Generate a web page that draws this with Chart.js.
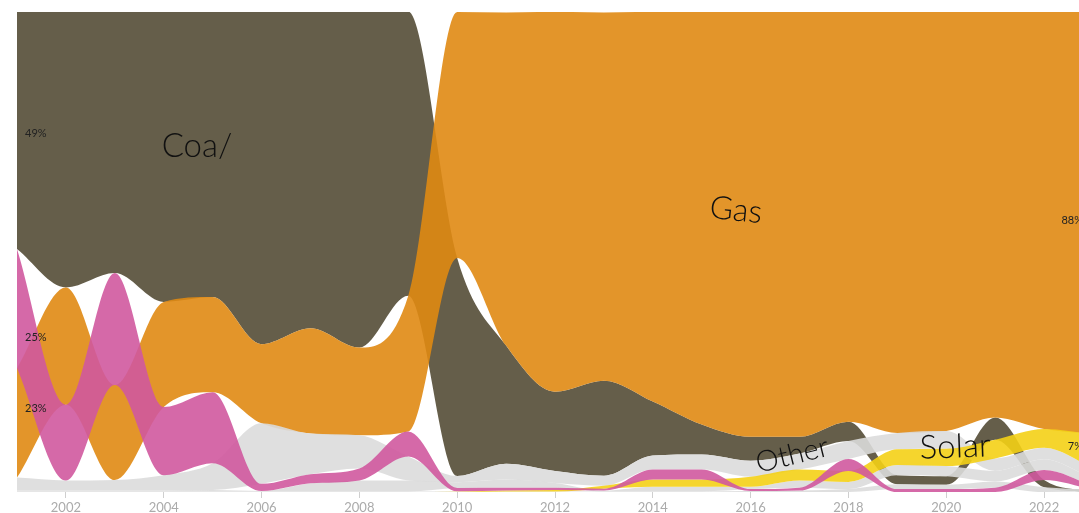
<!DOCTYPE html>
<html>
<head>
<meta charset="utf-8">
<script src="https://cdn.jsdelivr.net/npm/chart.js@4.4.1/dist/chart.umd.min.js"></script>
<style>
  html, body { margin: 0; padding: 0; background: #ffffff; width: 1079px; height: 513px; overflow: hidden; }
  canvas { display: block; }
</style>
</head>
<body>
<canvas id="chart" width="1100" height="513"></canvas>
<script>
// ---------- data (share of generation, %) ----------
const years = [2001, 2002, 2003, 2004, 2005, 2006, 2007, 2008, 2009, 2010, 2011, 2012,
               2013, 2014, 2015, 2016, 2017, 2018, 2019, 2020, 2021, 2022, 2023];
const tickYears = [2002, 2004, 2006, 2008, 2010, 2012, 2014, 2016, 2018, 2020, 2022];

const coal   = [49.4, 57.5, 54.4, 60.4, 59.4, 69.2, 66, 70, 59.2, 45.4, 24.6, 16.5,
                19.8, 11.25, 6.25, 5, 3.5, 4, 1.9, 1.8, 4.6, 1.5, 0.1];
const gas    = [22.8, 24.4, 19.8, 21.9, 19.8, 16.5, 21.9, 18.3, 28.3, 51.25, 69.4, 79.2,
                76.7, 81.25, 86, 88.5, 88.5, 85.4, 87.7, 87.3, 84.5, 86.9, 88];
const oil    = [24.8, 15.8, 23.3, 14.2, 14.8, 1.5, 1.9, 2.5, 5.2, 0.7, 0.6, 0.5,
                0.4, 2.1, 2.1, 0.4, 0.6, 2.5, 0.6, 0.6, 0.9, 2.1, 0.8];
const solar  = [0, 0, 0, 0, 0, 0, 0, 0, 0, 0.05, 0.2, 0.3,
                0.6, 1.5, 1.5, 2.1, 2.3, 2.3, 3.3, 3.6, 3.9, 3.9, 7];
const other  = [2.7, 2.1, 2.2, 3.2, 5.6, 12.6, 8.5, 6.9, 5.0, 1.3, 3.3, 2.5,
                2.1, 2.9, 3.1, 3.3, 3.3, 3.75, 3.4, 3.7, 2.6, 2.4, 2.3];
const wind   = [0.2, 0.2, 0.2, 0.2, 0.3, 0.1, 1.7, 2.3, 2.3, 1.2, 1.7, 1.0,
                0.2, 1.0, 1.0, 0.5, 1.5, 1.5, 2.1, 2.1, 2.2, 2.2, 1.4];
const bio    = [0.1, 0.1, 0.1, 0.1, 0.1, 0.1, 0.1, 0.1, 0.1, 0.1, 0.1, 0.1,
                0.1, 0.1, 0.1, 0.2, 0.3, 0.6, 1.0, 0.9, 1.3, 1.0, 0.4];

// ---------- styles (draw order: first = on top) ----------
const seriesList = [
  { name: 'Oil',       data: oil,   color: 'rgba(208,89,158,0.9)' },
  { name: 'Solar',     data: solar, color: 'rgba(244,208,22,0.9)' },
  { name: 'Other',     data: other, color: 'rgba(220,220,220,0.9)' },
  { name: 'Wind',      data: wind,  color: 'rgba(220,220,220,0.9)' },
  { name: 'Bioenergy', data: bio,   color: 'rgba(220,220,220,0.9)' },
  { name: 'Gas',       data: gas,   color: 'rgba(224,138,19,0.9)' },
  { name: 'Coal',      data: coal,  color: 'rgba(84,77,54,0.9)' }
];

// ranked stacking: largest share on top each year
const bottoms = seriesList.map(() => []);
years.forEach((yr, j) => {
  const idx = seriesList.map((s, i) => i);
  idx.sort((a, b) => (seriesList[a].data[j] - seriesList[b].data[j]) || (b - a));
  let acc = 0;
  idx.forEach(i => { bottoms[i][j] = acc; acc += seriesList[i].data[j]; });
});

const datasets = [];
seriesList.forEach((s, i) => {
  const topIndex = datasets.length;
  datasets.push({
    label: s.name,
    data: years.map((yr, j) => ({ x: yr, y: bottoms[i][j] + s.data[j] })),
    backgroundColor: s.color,
    borderWidth: 0,
    pointRadius: 0,
    cubicInterpolationMode: 'monotone',
    fill: topIndex + 1
  });
  datasets.push({
    label: s.name + ' base',
    data: years.map((yr, j) => ({ x: yr, y: bottoms[i][j] })),
    borderWidth: 0,
    pointRadius: 0,
    cubicInterpolationMode: 'monotone',
    fill: false
  });
});

// ---------- annotation texts ----------
const bigLabels = [
  { text: 'Coa/',  x: 2004.68, y: 72.1, rot: 0,   size: 33 },
  { text: 'Gas',   x: 2015.70, y: 58.7, rot: 6,   size: 32 },
  { text: 'Other', x: 2016.85, y: 7.7,  rot: -14, size: 29 },
  { text: 'Solar', x: 2020.18, y: 9.4,  rot: -2,  size: 33 }
];
const startLabels = [
  { series: coal, y: 74.8 },
  { series: oil,  y: 32.1 },
  { series: gas,  y: 17.5 }
];
const endLabels = [
  { series: gas,   y: 56.5 },
  { series: solar, y: 9.4 }
];

const textPlugin = {
  id: 'texts',
  afterDatasetsDraw(chart) {
    const ctx = chart.ctx;
    const xs = chart.scales.x, ys = chart.scales.y;
    ctx.save();
    ctx.fillStyle = '#111111';
    ctx.textAlign = 'center';
    ctx.textBaseline = 'middle';
    bigLabels.forEach(l => {
      ctx.save();
      ctx.translate(xs.getPixelForValue(l.x), ys.getPixelForValue(l.y));
      ctx.rotate(l.rot * Math.PI / 180);
      ctx.font = '300 ' + l.size + 'px Lato, "Noto Sans", sans-serif';
      ctx.fillText(l.text, 0, 0);
      ctx.restore();
    });
    ctx.font = '11px Lato, "Noto Sans", sans-serif';
    ctx.fillStyle = '#222222';
    ctx.textAlign = 'left';
    const x0 = xs.getPixelForValue(years[0]) + 8;
    startLabels.forEach(l => {
      ctx.fillText(Math.round(l.series[0]) + '%', x0, ys.getPixelForValue(l.y));
    });
    ctx.textAlign = 'right';
    const x1 = xs.getPixelForValue(years[years.length - 1]) - 10;
    endLabels.forEach(l => {
      ctx.fillText(Math.round(l.series[l.series.length - 1]) + '%', x1, ys.getPixelForValue(l.y));
    });
    ctx.restore();
  }
};

new Chart(document.getElementById('chart'), {
  type: 'line',
  data: { datasets },
  options: {
    responsive: false,
    animation: false,
    devicePixelRatio: 1,
    events: [],
    layout: { padding: { left: 17, right: 7, top: 12, bottom: 0 } },
    plugins: {
      legend: { display: false },
      tooltip: { enabled: false },
      filler: { propagate: false }
    },
    scales: {
      x: {
        type: 'linear',
        min: years[0],
        max: years[years.length - 1],
        afterBuildTicks: s => { s.ticks = tickYears.map(v => ({ value: v })); },
        afterFit: s => { s.height = 21; },
        ticks: {
          color: '#ababab',
          font: { family: 'Lato, "Noto Sans", sans-serif', size: 13 },
          padding: 2,
          maxRotation: 0,
          autoSkip: false,
          callback: v => String(v)
        },
        grid: { drawOnChartArea: false, drawTicks: true, tickLength: 6, color: '#cfcfcf' },
        border: { display: false }
      },
      y: { display: false, min: 0, max: 100 }
    }
  },
  plugins: [textPlugin]
});
</script>
</body>
</html>
